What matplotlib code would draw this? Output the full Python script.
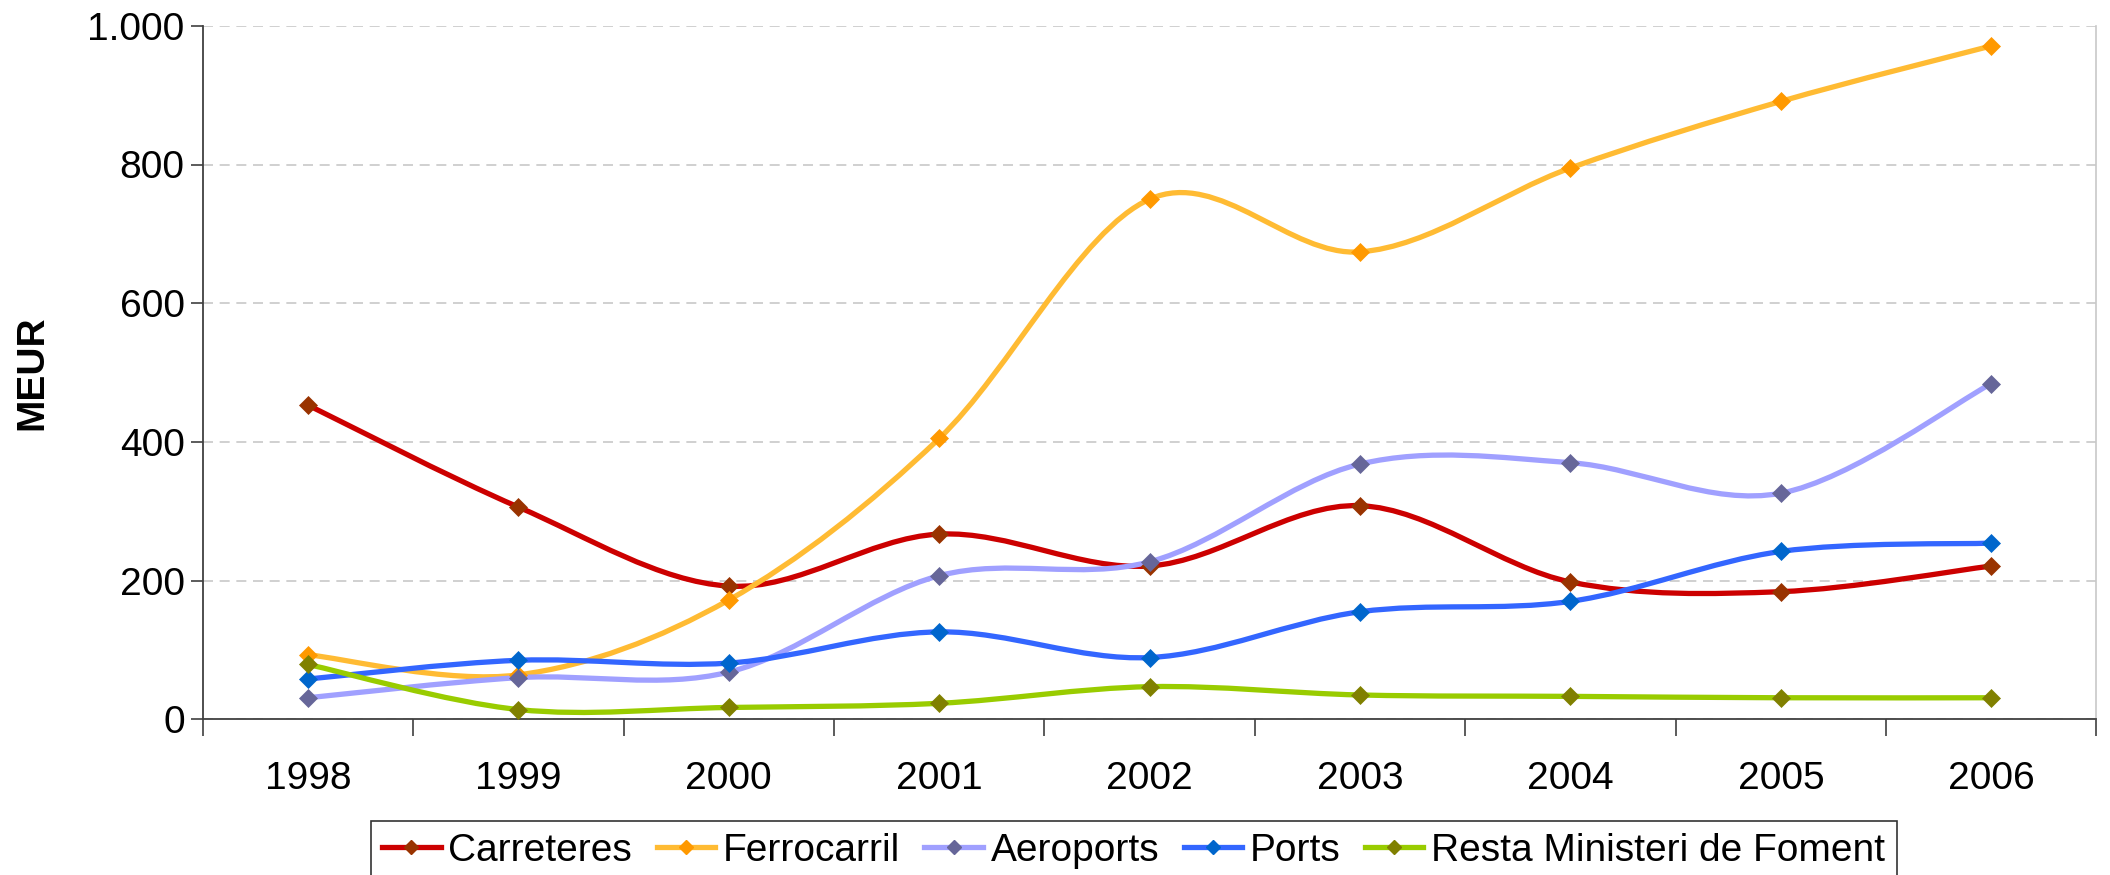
import matplotlib
matplotlib.use("Agg")
import matplotlib.pyplot as plt
from matplotlib.path import Path
from matplotlib.patches import PathPatch
from matplotlib.lines import Line2D
from matplotlib.ticker import FuncFormatter, FixedLocator
import numpy as np

plt.rcParams["font.family"] = ["Liberation Sans", "DejaVu Sans"]

years = ["1998", "1999", "2000", "2001", "2002", "2003", "2004", "2005", "2006"]
carreteres = [453, 306, 192, 267, 221, 308, 198, 184, 221]
ferrocarril = [93, 64, 172, 405, 750, 674, 795, 891, 971]
aeroports = [31, 60, 68, 207, 227, 368, 370, 326, 484]
ports = [58, 85, 81, 126, 89, 155, 170, 242, 254]
resta = [79, 14, 17, 23, 47, 35, 33, 31, 31]

series = [
    ("Carreteres", carreteres, "#CC0000", "#993300"),
    ("Ferrocarril", ferrocarril, "#FFBB33", "#FF9900"),
    ("Aeroports", aeroports, "#A0A0FF", "#666699"),
    ("Ports", ports, "#3366FF", "#0066CC"),
    ("Resta Ministeri de Foment", resta, "#99CC00", "#808000"),
]

LW = 3.8
MS = 8.8
FS = 28


def smooth_path(x, y):
    # Excel-style smoothed line: cubic Bezier with Catmull-Rom tangents
    pts = np.column_stack([x, y]).astype(float)
    n = len(pts)
    verts = [pts[0]]
    codes = [Path.MOVETO]
    for i in range(n - 1):
        p0 = pts[i - 1] if i > 0 else pts[i]
        p1 = pts[i]
        p2 = pts[i + 1]
        p3 = pts[i + 2] if i + 2 < n else pts[i + 1]
        c1 = p1 + (p2 - p0) / 6.0
        c2 = p2 - (p3 - p1) / 6.0
        verts += [c1, c2, p2]
        codes += [Path.CURVE4] * 3
    return Path(verts, codes)


fig = plt.figure(figsize=(21.1, 8.75), dpi=100)
ax = fig.add_axes([0.0961, 0.178, 0.8975, 0.7925])

x = np.arange(len(years))
for i, (name, vals, lc, mc) in enumerate(series):
    patch = PathPatch(smooth_path(x, vals), facecolor="none", edgecolor=lc,
                      linewidth=LW, capstyle="round", joinstyle="round", zorder=3 + i)
    ax.add_patch(patch)
    ax.plot(x, vals, linestyle="none", marker="D", markersize=MS,
            markerfacecolor=mc, markeredgecolor=mc, markeredgewidth=0.5, zorder=10 + i)

ax.set_xlim(-0.5, len(years) - 0.5)
ax.set_ylim(0, 1000)
ax.set_yticks([0, 200, 400, 600, 800, 1000])
ax.yaxis.set_major_formatter(FuncFormatter(lambda v, p: f"{int(v):,}".replace(",", ".")))
ax.set_xticks(x)
ax.set_xticklabels(years)
ax.xaxis.set_minor_locator(FixedLocator(np.arange(-0.5, len(years), 1.0)))

ax.grid(axis="y", color="#C8C8C8", linestyle=(0, (6, 4)), linewidth=1.2, zorder=0)
ax.set_axisbelow(True)

ax.spines["top"].set_visible(False)
ax.spines["right"].set_color("#C8C8C8")
ax.spines["right"].set_linewidth(1.2)
for s in ["left", "bottom"]:
    ax.spines[s].set_color("#404040")
    ax.spines[s].set_linewidth(1.3)

ax.tick_params(axis="y", direction="out", length=9, width=1.2, color="#404040",
               labelsize=FS, pad=4)
ax.tick_params(axis="x", which="major", length=0, labelsize=FS, pad=30)
ax.tick_params(axis="x", which="minor", direction="out", length=12, width=1.2,
               color="#404040")

ax.set_ylabel("MEUR", fontsize=FS, fontweight="bold", labelpad=27)

handles = [Line2D([0], [0], color=lc, linewidth=LW, marker="D", markersize=MS - 1.5,
                  markerfacecolor=mc, markeredgecolor=mc)
           for _, _, lc, mc in series]
labels = [s[0] for s in series]
leg = fig.legend(handles, labels, loc="lower center", bbox_to_anchor=(0.5373, -0.006),
                 ncol=5, fontsize=FS, frameon=True, fancybox=False,
                 handlelength=1.5, handletextpad=0.2, columnspacing=0.63,
                 borderpad=0.3, borderaxespad=0)
leg.get_frame().set_edgecolor("#000000")
leg.get_frame().set_linewidth(1.2)

fig.savefig("out.png", dpi=100, facecolor="white")
